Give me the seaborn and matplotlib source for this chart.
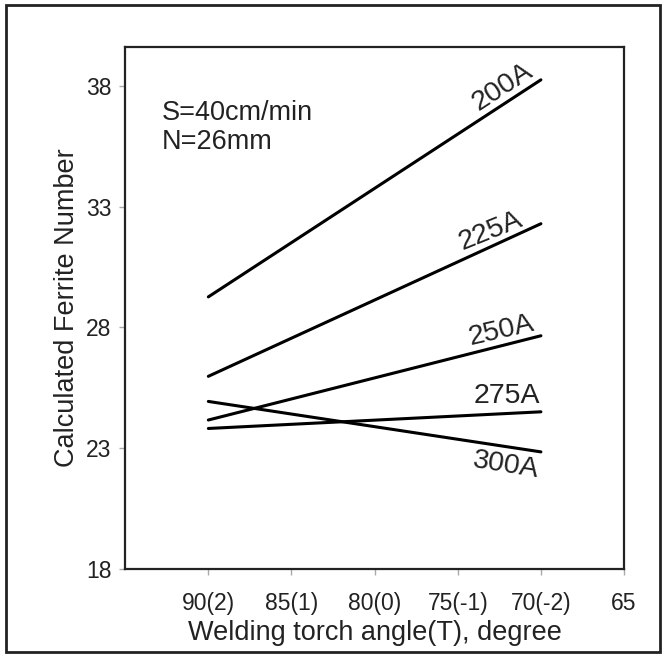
import matplotlib
matplotlib.use("Agg")
import matplotlib.pyplot as plt
import seaborn as sns
import pandas as pd
from matplotlib.patches import Rectangle

# Data
currents = ["200A", "225A", "250A", "275A", "300A"]
angles = [90, 70]
fn_start = [29.26, 25.97, 24.16, 23.81, 24.93]
fn_end = [38.25, 32.29, 27.65, 24.50, 22.84]
x_ticks = [90, 85, 80, 75, 70, 65]
x_tick_labels = ["90(2)", "85(1)", "80(0)", "75(-1)", "70(-2)", "65"]
y_ticks = [18, 23, 28, 33, 38]

rows = []
for c, s, e in zip(currents, fn_start, fn_end):
    rows.append({"angle": angles[0], "fn": s, "current": c})
    rows.append({"angle": angles[1], "fn": e, "current": c})
df = pd.DataFrame(rows)

sns.set_style("white")
plt.rcParams['font.family'] = ['Liberation Sans', 'DejaVu Sans']

fig = plt.figure(figsize=(6.66, 6.56), dpi=100)
ax = fig.add_axes([0.188, 0.133, 0.749, 0.795])

sns.lineplot(data=df, x="angle", y="fn", hue="current",
             palette=["black"] * len(currents), linewidth=2.2,
             legend=False, ax=ax, sort=False)

ax.set_xlim(95, 65)
ax.set_ylim(18, 39.6)
ax.set_xticks(x_ticks)
ax.set_xticklabels(x_tick_labels)
ax.set_yticks(y_ticks)
ax.tick_params(axis="both", labelsize=16.5, colors="#aaaaaa", labelcolor="#222222",
               length=4, width=1, direction="out", left=True, bottom=True, pad=6)
ax.tick_params(axis="x", pad=13)
for sp in ax.spines.values():
    sp.set_color("#222222")
    sp.set_linewidth(1.6)

ax.set_xlabel("Welding torch angle(T), degree", fontsize=19.5, color="#222222", labelpad=3)
ax.set_ylabel("Calculated Ferrite Number", fontsize=19.5, color="#222222", labelpad=4)

ax.text(0.074, 0.898, "S=40cm/min\nN=26mm", transform=ax.transAxes, fontsize=19.5,
        color="#222222", va="top", ha="left", linespacing=1.15)

# Curve labels
label_pos = [(72.3, 37.95, 33), (73.0, 32.0, 22), (72.4, 27.85, 13), (72.05, 25.15, 0), (72.1, 22.27, -9)]
for name, (lx, ly, rot) in zip(currents, label_pos):
    ax.text(lx, ly, name, fontsize=20.5, color="#222222", rotation=rot,
            ha="center", va="center", rotation_mode="anchor")

fig.patches.append(Rectangle((0.009, 0.006), 0.982, 0.986, transform=fig.transFigure,
                             fill=False, edgecolor="#222222", linewidth=2))

fig.savefig("out.png", dpi=100, facecolor="white")
